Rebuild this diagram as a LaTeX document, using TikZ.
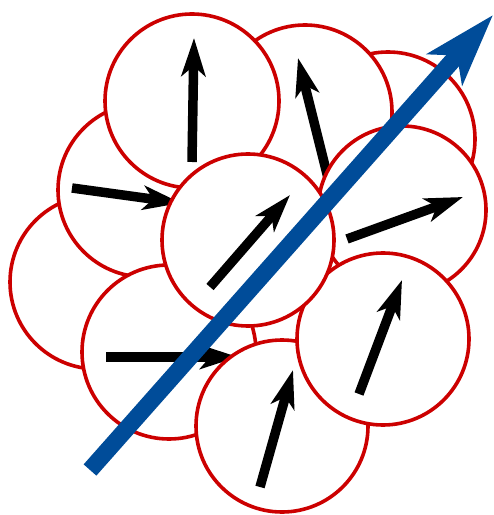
\documentclass[tikz,border=0pt]{standalone}
\usepackage{tikz}
\usetikzlibrary{arrows.meta}

\definecolor{grainred}{RGB}{204,0,0}
\definecolor{fieldblue}{RGB}{0,76,153}

\tikzset{
  grain/.style={draw=grainred, fill=white, line width=0.72mm},
  spin/.style={line width=1.9mm, -{Stealth[length=7.6mm, width=4.8mm, inset=2mm]}},
  field/.style={draw=fieldblue, line width=3.4mm, -{Stealth[length=14.4mm, width=9.2mm, inset=3.6mm]}}
}

\begin{document}
\begin{tikzpicture}[x=0.2mm, y=-0.2mm]
    \useasboundingbox (0,0) rectangle (493,515);

    % grains without a spin, at the back
    \draw[grain] (97,282) circle (87);
    \draw[grain] (388,139) circle (87);

    % grains back to front: centre / radius / spin tail / spin tip
    \foreach \cx/\cy/\r/\tx/\ty/\hx/\hy in {
        305/112/87/330/186/298/58,
        145/190/87/72/188/181/203,
        192/101/87/192/162/194/38,
        169/352/87/106/357/238/357,
        282/426/86/260/487/293/370,
        402/210/84/347/239/463/197,
        383/339/86/359/394/402/280,
        248/240/86/210/287/290/195}
    {
        \draw[grain] (\cx,\cy) circle (\r);
        \coordinate (spintail) at (\tx,\ty);
        \coordinate (spintip) at (\hx,\hy);
        \draw[spin] (spintail) -- (spintip);
    }

    % applied field
    \coordinate (fieldtail) at (90,470);
    \coordinate (fieldtip) at (493,15);
    \draw[field] (fieldtail) -- (fieldtip);
\end{tikzpicture}
\end{document}
